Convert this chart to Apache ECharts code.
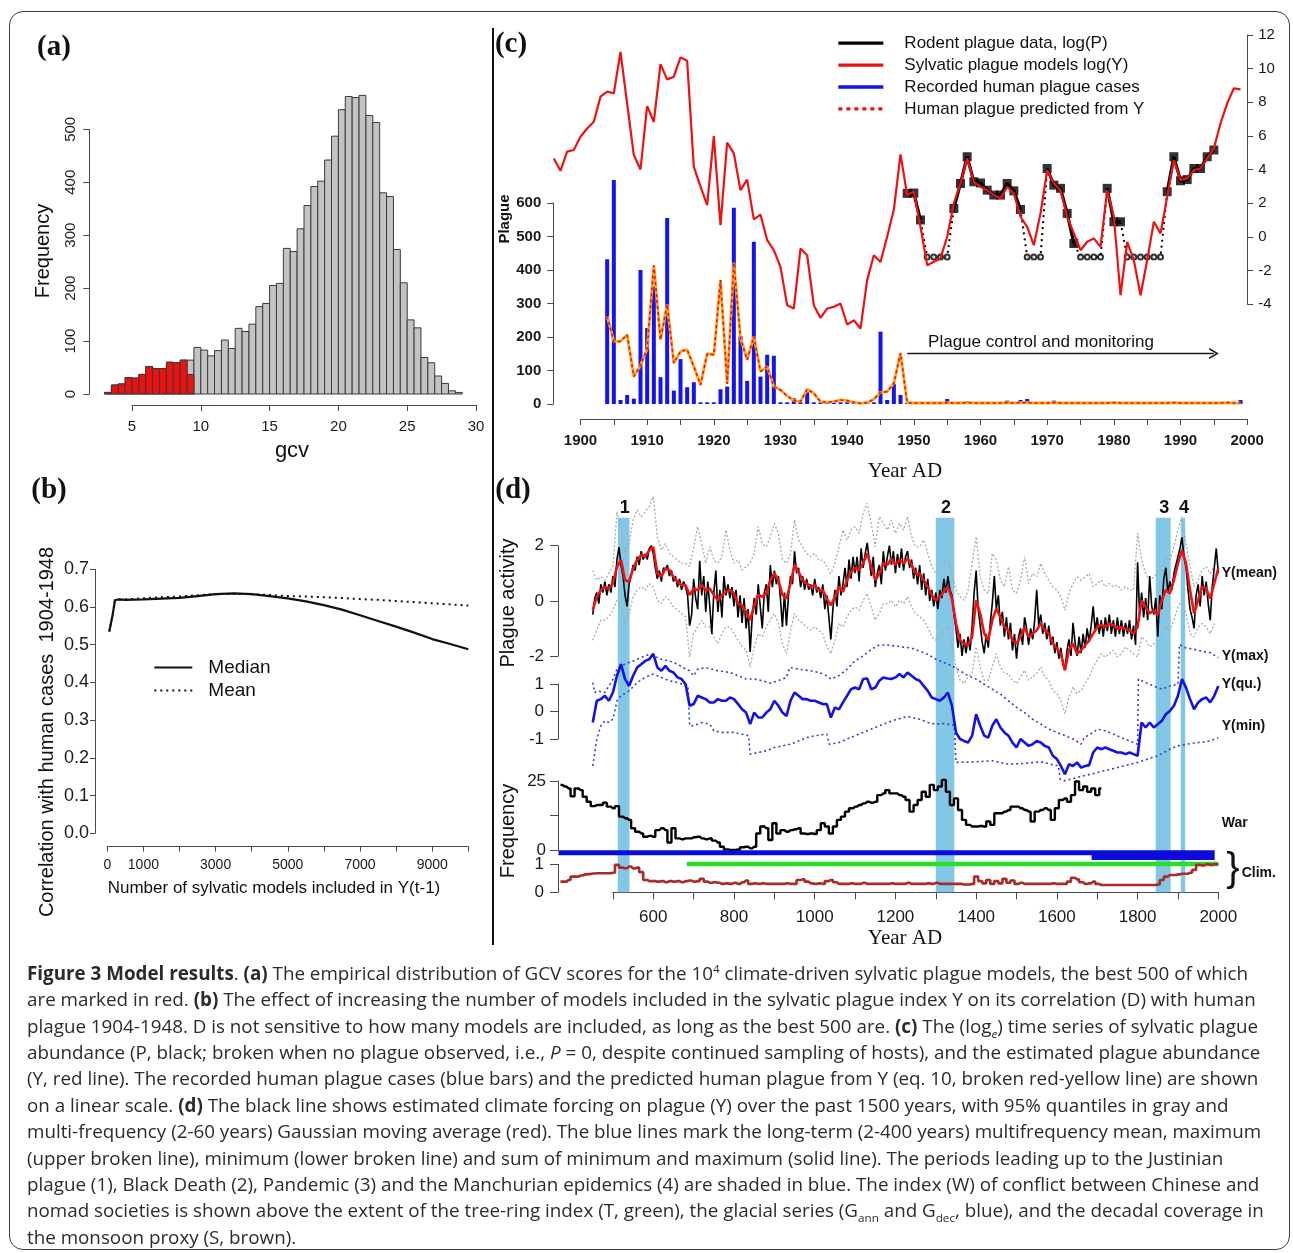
<!DOCTYPE html>
<html>
<head>
<meta charset="utf-8">
<title>Figure 3 Model results</title>
<script src="https://cdn.jsdelivr.net/npm/echarts@6.0.0/dist/echarts.min.js"></script>
<style>
  html, body { margin: 0; padding: 0; background: #fff; }
  #page { position: relative; width: 1293px; height: 1253px; overflow: hidden; background: #fff; }
  #chart { position: absolute; left: 0; top: 0; width: 1293px; height: 1253px; }
  #frame { position: absolute; left: 9px; top: 11px; width: 1281px; height: 1239px; box-sizing: border-box;
           border: 1.5px solid #3a3a3a; border-radius: 14px; pointer-events: none; }
  #caption { position: absolute; left: 27px; top: 960px; font-family: "Open Sans", "Noto Sans", sans-serif;
             font-size: 18px; color: #2b2b2b; white-space: nowrap; }
  #caption div { width: max-content; height: 26.37px; line-height: 26.37px; }
  #caption sup, #caption sub { font-size: 0.62em; line-height: 0; }
</style>
</head>
<body>
<div id="page">
  <div id="chart"></div>
  <div id="frame"></div>
  <div id="caption">
    <div><b>Figure 3 Model results</b>. <b>(a)</b> The empirical distribution of GCV scores for the 10<sup>4</sup> climate-driven sylvatic plague models, the best 500 of which</div>
    <div>are marked in red. <b>(b)</b> The effect of increasing the number of models included in the sylvatic plague index Y on its correlation (D) with human</div>
    <div>plague 1904-1948. D is not sensitive to how many models are included, as long as the best 500 are. <b>(c)</b> The (log<sub><i>e</i></sub>) time series of sylvatic plague</div>
    <div>abundance (P, black; broken when no plague observed, i.e., <i>P</i> = 0, despite continued sampling of hosts), and the estimated plague abundance</div>
    <div>(Y, red line). The recorded human plague cases (blue bars) and the predicted human plague from Y (eq. 10, broken red-yellow line) are shown</div>
    <div>on a linear scale. <b>(d)</b> The black line shows estimated climate forcing on plague (Y) over the past 1500 years, with 95% quantiles in gray and</div>
    <div>multi-frequency (2-60 years) Gaussian moving average (red). The blue lines mark the long-term (2-400 years) multifrequency mean, maximum</div>
    <div>(upper broken line), minimum (lower broken line) and sum of minimum and maximum (solid line). The periods leading up to the Justinian</div>
    <div>plague (1), Black Death (2), Pandemic (3) and the Manchurian epidemics (4) are shaded in blue. The index (W) of conflict between Chinese and</div>
    <div>nomad societies is shown above the extent of the tree-ring index (T, green), the glacial series (G<sub>ann</sub> and G<sub>dec</sub>, blue), and the decadal coverage in</div>
    <div>the monsoon proxy (S, brown).</div>
  </div>
</div>
<script>
// ---------- (a) GCV histogram ----------
const gcvFrom = 3;          // first bin edge
const gcvBin = 0.5;         // bin width
const gcvCounts = [3, 17, 19, 31, 30, 37, 52, 48, 48, 60, 59, 64, 64,
  88, 83, 72, 82, 102, 86, 124, 118, 132, 165, 171, 205, 209, 275, 269, 312, 356, 392, 402, 442,
  487, 537, 562, 560, 564, 526, 513, 380, 373, 273, 210, 140, 125, 69, 59, 34, 20, 6, 3];
const gcvBest500 = [3, 17, 19, 31, 30, 37, 52, 48, 48, 60, 59, 64, 37];

// ---------- (b) correlation vs number of models ----------
const corrModels = [55, 150, 212, 300, 500, 1000, 1500, 2000, 2500, 3000, 3500, 4000, 4500, 5000,
  5500, 6000, 6500, 7000, 7500, 8000, 8500, 9000, 9500, 10000];
const corrMedian = [0.535, 0.58, 0.618, 0.62, 0.619, 0.62, 0.622, 0.624, 0.629, 0.634, 0.636, 0.634,
  0.629, 0.623, 0.615, 0.605, 0.593, 0.578, 0.563, 0.548, 0.532, 0.515, 0.502, 0.488];
const corrMean = [0.535, 0.58, 0.618, 0.62, 0.62, 0.623, 0.626, 0.628, 0.631, 0.634, 0.635, 0.634,
  0.632, 0.629, 0.628, 0.626, 0.624, 0.621, 0.619, 0.616, 0.613, 0.61, 0.607, 0.604];
const corrTickLabels = [0, 1000, 3000, 5000, 7000, 9000];

// ---------- (c) 1896-1999 ----------
const logYFrom = 1896;
const logY = [4.66, 3.92, 5.06, 5.16, 5.95, 6.44, 6.84, 8.33, 8.63, 8.53,
  11.0, 7.93, 4.86, 4.0, 7.77, 6.84, 10.27, 9.36, 9.52, 10.67,
  10.47, 4.16, 3.0, 1.88, 5.99, 0.69, 5.6, 4.96, 2.77, 3.4,
  1.03, 1.32, -0.2, -0.8, -1.79, -4.07, -4.27, -0.7, -1.1, -4.07,
  -4.83, -4.27, -4.17, -3.97, -5.22, -4.97, -5.46, -2.58, -1.1, -1.5,
  0.0, 1.6, 4.9, 2.5, 2.68, 0.59, -1.69, -1.49, -1.29, 0.0,
  1.98, 3.17, 4.66, 3.27, 2.97, 2.77, 2.48, 2.28, 2.97, 2.58,
  1.19, 0.59, -0.5, 1.39, 3.96, 3.17, 2.77, 1.19, 0.2, -0.8,
  -0.3, -0.1, -0.6, 2.77, 1.19, -3.48, -0.3, -1.39, -3.48, -1.39,
  0.89, 0.2, 2.38, 4.56, 3.37, 3.47, 3.96, 4.06, 4.66, 5.26,
  6.74, 7.93, 8.83, 8.77];
const rodentFrom = 1949;
const rodentZeroLevel = -1.2;   // where years with P = 0 are drawn
const rodentLogP = [2.58, 2.6, 1.0, null, null, null, null, 1.68, 3.17, 4.76,
  3.27, 3.2, 2.77, 2.48, 2.48, 3.17, 2.73, 1.62, null, null,
  null, 4.06, 3.07, 2.88, 1.39, -0.4, null, null, null, null,
  2.88, 0.89, 0.89, null, null, null, null, null, null, 2.68,
  4.76, 3.33, 3.4, 4.06, 4.06, 4.76, 5.16];
const humanFrom = 1904;
const humanCases = [432, 669, 12, 27, 16, 400, 227, 352, 80, 555,
  40, 134, 50, 65, 5, 5, 5, 44, 52, 586,
  203, 69, 484, 82, 147, 144, 5, 5, 17, 5,
  35, 5, 5, 5, 5, 5, 5, 5, 5, 5,
  5, 216, 12, 60, 27,
  3, 3, 3, 4, 3, 3, 15, 4, 3, 8,
  4, 3, 3, 4, 5, 10, 4, 12, 15, 4,
  3, 3, 10, 3, 4, 3, 4, 5, 3, 3,
  4, 3, 3, 4, 3, 3, 4, 3, 3, 3,
  6, 3, 4, 3, 3, 4, 3, 3, 4, 3, 12];
const humanPredicted = [262, 187, 187, 207, 82, 115, 165, 414, 192, 297,
  122, 157, 162, 112, 57, 150, 147, 370, 60, 422,
  197, 132, 202, 97, 112, 52, 42, 24, 10, 7,
  44, 32, 7, 5, 7, 12, 10, 5, 2, 4,
  14, 35, 37, 62, 152, 4, 3, 3, 3, 3,
  3, 4, 3, 3, 4, 3, 3, 3, 3, 3,
  4, 3, 4, 4, 3, 3, 3, 4, 3, 3,
  3, 3, 3, 3, 3, 3, 4, 3, 3, 3,
  3, 3, 3, 3, 3, 4, 3, 3, 3, 3,
  3, 3, 3, 4, 3, 3];
const controlStart = 1949, controlEnd = 1995;

// ---------- (d) 450-2000 ----------
const plagueBlack = [ // every 5 years from 450
  -0.5, 0.1, 0.3, -0.1, 0.6, 0.3, 0.7, 0.2, 0.6, 0.3,
  0.9, 0.5, 1.5, 1.95, 1.3, 0.9, 0.2, -0.2, 0.6, 0.9,
  1.3, 1.1, 1.6, 1.3, 1.8, 1.5, 1.7, 1.5, 1.9, 2.0,
  1.7, 1.2, 0.8, 1.1, 0.7, 1.2, 1.1, 1.3, 0.9, 1.1,
  0.7, 0.9, 0.5, 0.8, 0.4, 0.7, 0.5, 0.2, -0.9, -0.5,
  0.8, 0.1, -0.3, 1.45, 0.2, 0.9, -0.4, 0.7, -0.2, -1.2,
  0.3, 1.1, -0.4, 0.4, -0.6, 0.9, 0.2, 0.6, 0.1, 0.5,
  -0.2, 0.4, -0.6, 0.2, -0.8, 0.1, -1.0, -0.3, -1.85, -0.6,
  0.1, -0.5, 0.6, -0.2, -1.0, 0.3, 0.6, -0.4, 1.3, 0.5,
  1.1, 0.6, 0.9, 0.1, -0.95, 0.3, -0.9, 0.2, 0.9, 0.6,
  1.8, 1.0, 1.2, 0.5, 0.9, 0.4, 0.8, 0.4, 0.6, 0.2,
  0.8, 0.3, 0.5, 0.1, 0.6, -0.3, 0.2, -0.6, -1.4, -0.3,
  0.4, -0.2, 0.9, 0.2, 0.6, 1.2, 0.5, 1.5, 0.8, 1.6,
  1.0, 1.6, 0.7, 1.9, 1.2, 1.7, 2.1, 1.5, 0.9, 1.6,
  0.5, 1.0, 1.3, 0.6, 1.8, 1.1, 1.6, 2.0, 1.3, 1.8,
  1.0, 1.7, 1.2, 1.9, 1.1, 1.6, 1.8, 1.2, 1.5, 0.8,
  1.2, 0.6, 1.3, 0.4, 1.0, 0.2, 0.8, 0.0, 0.4, -0.2,
  0.3, -0.3, 0.4, 0.1, 0.8, 0.3, 0.9, 0.4, 0.2, -0.5,
  -1.0, -1.7, -1.2, -2.0, -1.4, -1.9, -1.3, -1.8, -0.9, 0.3,
  1.1, -0.3, -0.9, -1.5, -1.9, -1.2, -1.7, -0.8, -0.1, 0.9,
  -0.3, 0.2, -0.9, -0.4, -1.3, -0.6, -1.4, -0.8, -1.8, -1.2,
  -2.1, -1.3, -1.0, -1.6, -0.6, -1.0, -1.6, -1.0, -1.4, -0.7,
  0.4, -0.9, -0.5, -1.2, -0.8, -1.4, -0.9, -1.6, -1.3, -1.9,
  -1.5, -2.1, -1.7, -2.3, -2.5, -1.8, -1.4, -2.0, -0.8, -1.5,
  -2.0, -1.3, -1.9, -1.2, -1.7, -1.0, -1.5, -0.9, -0.2, -1.1,
  -0.6, -1.2, -0.7, -1.3, -0.6, -1.1, -0.5, -1.2, -0.7, -1.3,
  -0.6, -1.2, -0.7, -1.3, -0.8, -1.2, -0.7, -1.4, -0.9, -1.6,
  1.4, -0.5, 0.3, -0.6, 0.1, -0.7, 0.9, -0.2, -0.5, 0.1,
  -1.3, 0.2, -0.3, 0.8, 1.2, 0.3, 0.7, 0.4, 1.0, 1.3,
  1.6, 1.9, 2.3, 1.6, 1.2, 0.4, -0.3, -0.6, -1.0, 0.2,
  0.6, -0.2, 0.9, 0.2, 0.7, -0.1, -0.7, 0.5, 1.2, 1.9,
  1.0];
const plagueRed = [ // every 10 years from 450
  -0.34, 0.15, 0.39, 0.5, 0.45, 0.63, 1.24, 1.48, 0.75, 0.69,
  1.18, 1.48, 1.66, 1.6, 1.84, 1.95, 0.99, 0.87, 1.18, 1.12,
  0.87, 0.69, 0.57, 0.57, 0.21, 0.45, 0.39, 0.57, 0.39, 0.45,
  0.21, 0.02, 0.21, 0.33, 0.39, 0.27, -0.1, -0.16, -0.4, -0.7,
  -0.16, 0.21, 0.15, 0.27, 0.75, 0.99, 0.75, 0.21, 0.08, 0.63,
  1.3, 1.05, 0.75, 0.63, 0.51, 0.57, 0.39, 0.39, 0.08, -0.16,
  0.15, 0.51, 0.33, 0.75, 1.05, 1.18, 1.12, 1.36, 1.72, 1.24,
  0.75, 0.99, 1.36, 1.3, 1.54, 1.3, 1.48, 1.36, 1.54, 1.3,
  0.99, 0.99, 0.75, 0.51, 0.21, 0.02, 0.15, 0.33, 0.51, 0.08,
  -0.82, -1.43, -1.55, -1.61, -1.31, 0.02, -0.46, -1.19, -1.43, -0.7,
  -0.28, -0.58, -0.95, -1.07, -1.43, -1.55, -1.31, -0.95, -1.31, -1.19,
  -1.07, -0.82, -1.07, -1.19, -1.55, -1.73, -1.92, -2.52, -1.79, -1.55,
  -1.92, -1.79, -1.61, -1.43, -1.19, -0.95, -0.88, -0.95, -0.82, -0.88,
  -1.01, -0.95, -1.01, -1.07, -1.19, -0.95, 0.02, -0.22, -0.46, -0.34,
  -0.52, 0.02, 0.39, 0.27, 0.75, 1.36, 1.84, 1.36, 0.39, -0.46,
  0.02, 0.51, 0.45, 0.08, 0.63, 1.18];
const plagueQ975 = [ // every 10 years from 450
  1.1, 0.75, 0.87, 0.75, 1.0, 1.24, 3.24, 2.57, 1.72, 2.08,
  2.93, 3.3, 3.05, 3.24, 3.42, 3.78, 2.33, 1.84, 2.08, 1.72,
  1.6, 1.48, 1.36, 1.36, 1.24, 1.96, 2.69, 2.08, 1.36, 1.96,
  1.48, 1.36, 1.6, 2.57, 1.84, 1.36, 1.48, 1.12, 1.24, 1.36,
  1.72, 2.69, 2.08, 1.96, 2.33, 2.81, 2.45, 1.48, 1.36, 1.72,
  2.93, 2.21, 1.96, 1.72, 1.6, 1.72, 1.48, 1.48, 1.24, 0.99,
  1.36, 1.96, 2.57, 2.21, 2.57, 2.69, 2.45, 3.18, 3.54, 2.81,
  1.96, 3.05, 2.81, 2.57, 2.93, 2.45, 2.81, 2.57, 3.05, 2.33,
  1.96, 1.96, 2.21, 1.72, 1.24, 0.99, 1.24, 1.36, 1.48, 0.99,
  0.39, 0.15, 0.02, 0.39, 1.36, 2.33, 0.87, 0.39, 0.27, 1.72,
  1.48, 0.75, 0.51, 1.24, 0.39, 0.27, 0.75, 1.6, 0.63, 0.99,
  0.87, 1.36, 0.99, 0.75, 0.51, 0.39, 0.15, -0.34, 0.27, 0.63,
  0.87, 0.75, 0.87, 0.99, 0.51, 0.63, 0.75, 0.51, 0.63, 0.51,
  0.57, 0.39, 0.51, 0.39, 0.39, 2.45, 1.48, 0.99, 0.75, 0.87,
  0.99, 1.12, 1.6, 1.48, 1.96, 2.57, 3.05, 2.08, 1.24, 0.51,
  0.75, 1.12, 1.24, 0.99, 1.24];
const plagueQ025 = [ // every 10 years from 450
  -1.43, -1.07, -0.7, -0.7, -0.58, -0.34, 0.02, -0.22, -0.82, -0.46,
  0.15, 0.39, 0.51, 0.39, 0.63, 0.51, 0.02, -0.1, 0.15, 0.02,
  -0.22, -0.34, -0.46, -0.58, -2.04, -1.19, -0.95, -0.7, -0.95, -0.95,
  -1.31, -1.55, -1.19, -0.95, -0.95, -1.19, -1.43, -1.67, -1.79, -2.4,
  -1.67, -1.19, -1.31, -0.95, -0.7, -0.46, -0.82, -1.55, -1.92, -1.07,
  -0.46, -0.7, -0.82, -0.95, -1.07, -0.95, -1.07, -1.19, -1.67, -1.92,
  -1.43, -0.82, -0.95, -0.58, -0.34, -0.22, -0.34, 0.02, 0.27, -0.22,
  -0.7, -0.46, -0.1, -0.1, 0.02, -0.22, 0.02, -0.1, 0.15, -0.22,
  -0.46, -0.58, -0.7, -0.95, -1.31, -1.43, -1.31, -1.07, -0.95, -1.55,
  -2.4, -2.88, -3.0, -2.76, -2.64, -1.67, -2.4, -2.88, -2.88, -2.4,
  -1.92, -2.4, -2.64, -2.64, -2.88, -3.0, -2.76, -2.52, -2.88, -2.76,
  -2.64, -2.4, -2.76, -2.88, -3.25, -3.37, -3.61, -4.1, -3.49, -3.12,
  -3.37, -3.25, -3.0, -2.76, -2.4, -2.16, -1.92, -2.04, -1.92, -1.79,
  -2.04, -1.92, -1.67, -1.79, -1.92, -2.04, -1.31, -1.43, -1.67, -1.55,
  -1.67, -1.19, -0.95, -1.07, -0.7, -0.22, 0.02, -0.46, -1.19, -1.31,
  -0.95, -0.82, -0.95, -1.19, -0.82];
const yQu = [ // every 10 years from 450
  -0.4, 0.39, 0.45, 0.57, 0.39, 0.69, 1.3, 1.72, 1.18, 0.93,
  1.3, 1.6, 1.72, 1.84, 1.9, 2.1, 1.6, 1.48, 1.66, 1.48,
  1.42, 1.24, 1.18, 0.99, 0.21, 0.27, 0.57, 0.51, 0.45, 0.33,
  0.33, 0.45, 0.39, 0.39, 0.51, 0.45, 0.27, 0.08, -0.04, -0.46,
  -0.04, -0.22, -0.22, -0.04, 0.08, 0.39, 0.21, -0.04, -0.16, 0.39,
  0.69, 0.57, 0.45, 0.45, 0.39, 0.39, 0.33, 0.27, 0.27, -0.22,
  0.15, 0.08, 0.33, 0.57, 0.81, 0.87, 0.81, 1.18, 1.2, 0.81,
  0.87, 1.12, 1.24, 1.2, 1.18, 1.24, 1.36, 1.24, 1.42, 1.3,
  1.18, 1.12, 0.93, 0.75, 0.51, 0.45, 0.39, 0.51, 0.69, 0.21,
  -0.76, -1.0, -1.07, -1.13, -0.88, -0.1, -0.52, -0.88, -0.95, -0.52,
  -0.28, -0.58, -0.76, -0.88, -1.13, -1.31, -1.0, -1.13, -1.25, -1.19,
  -1.07, -1.13, -1.25, -1.31, -1.61, -1.73, -1.98, -2.28, -1.92, -1.98,
  -1.85, -2.04, -1.98, -1.95, -1.49, -1.31, -1.37, -1.31, -1.37, -1.43,
  -1.49, -1.49, -1.55, -1.49, -1.55, -1.61, -0.4, -0.58, -0.4, -0.58,
  -0.46, -0.34, -0.1, 0.02, 0.21, 0.57, 1.18, 0.87, 0.45, 0.08,
  0.33, 0.45, 0.51, 0.33, 0.57, 0.93];
const yMaxPts = [[450, 1.05], [455, 0.69], [460, 0.75], [470, 0.72], [480, 0.69], [490, 0.93], [500, 1.18],
  [510, 1.54], [520, 1.66], [530, 1.72], [550, 1.84], [570, 1.96], [590, 2.08], [600, 2.02], [620, 1.9],
  [640, 1.84], [660, 1.72], [680, 1.54], [690, 1.48], [700, 1.3], [710, 1.54], [730, 1.6], [760, 1.48],
  [790, 1.42], [810, 1.3], [830, 1.18], [850, 1.18], [870, 1.12], [890, 1.03], [910, 1.12], [930, 1.24],
  [938, 1.6], [960, 1.54], [990, 1.48], [1010, 1.42], [1030, 1.3], [1040, 1.18], [1060, 1.3], [1080, 1.54],
  [1100, 1.84], [1120, 2.02], [1140, 2.26], [1160, 2.42], [1180, 2.42], [1200, 2.38], [1220, 2.34],
  [1240, 2.31], [1260, 2.19], [1280, 2.08], [1300, 1.9], [1320, 1.78], [1340, 1.66], [1360, 1.48],
  [1380, 1.3], [1400, 1.18], [1420, 0.99], [1440, 0.81], [1460, 0.63], [1480, 0.39], [1500, 0.15],
  [1520, -0.04], [1540, -0.28], [1560, -0.46], [1580, -0.64], [1600, -0.76], [1620, -0.88], [1640, -1.0],
  [1660, -1.19], [1668, -0.95], [1690, -0.76], [1700, -0.64], [1720, -0.7], [1740, -0.82], [1760, -0.95],
  [1780, -1.07], [1800, -1.19], [1802, 1.18], [1820, 1.05], [1840, 0.93], [1860, 0.81], [1880, 0.93],
  [1900, 0.99], [1904, 2.44], [1920, 2.31], [1940, 2.26], [1960, 2.19], [1980, 2.14], [2000, 1.96]];
const yMinPts = [[450, -1.98], [455, -1.49], [460, -1.0], [470, -0.52], [480, -0.34], [490, -0.4], [500, -0.28],
  [510, 0.39], [520, 0.57], [540, 0.75], [560, 1.05], [580, 1.24], [600, 1.36], [620, 1.24], [640, 1.12],
  [660, 1.05], [686, 0.93], [690, -0.52], [700, -0.52], [720, -0.4], [740, -0.46], [750, -0.7], [770, -0.76],
  [800, -0.76], [836, -0.88], [840, -1.55], [860, -1.49], [880, -1.43], [900, -1.31], [920, -1.25],
  [940, -1.19], [960, -1.07], [980, -0.95], [1000, -0.88], [1030, -0.82], [1036, -1.19], [1060, -1.13],
  [1080, -1.0], [1100, -0.88], [1120, -0.76], [1140, -0.64], [1160, -0.52], [1180, -0.4], [1200, -0.3],
  [1230, -0.18], [1260, -0.28], [1280, -0.4], [1300, -0.46], [1320, -0.44], [1346, -0.5], [1350, -1.85],
  [1400, -1.83], [1440, -1.79], [1480, -1.92], [1520, -1.89], [1560, -1.83], [1604, -1.98], [1608, -2.46],
  [1620, -2.52], [1650, -2.4], [1700, -2.22], [1750, -2.04], [1800, -1.85], [1850, -1.61], [1880, -1.37],
  [1900, -1.25], [1920, -1.19], [1950, -1.13], [1980, -1.07], [2000, -0.95]];
const warFreq = [ // every 10 years from 370
  23.6, 23, 22.3, 19.5, 22.3, 21.7, 19.3, 17.5, 15.9, 16.3,
  16.3, 17.1, 15.7, 15.1, 15.9, 12.1, 11.5, 10.9, 7.9, 6.6,
  6.0, 4.8, 5.1, 4.8, 7.2, 7.9, 7.2, 2.7, 7.9, 4.2,
  3.9, 4.2, 4.2, 4.6, 4.8, 4.2, 3.9, 4.2, 3.4, 2.7,
  1.2, 0.2, 0, 0, 0.2, 1.0, 1.2, 0.6, 1.2, 6.0,
  8.5, 7.9, 3.6, 9.7, 6.0, 7.2, 6.6, 7.2, 7.5, 7.9,
  6.0, 5.8, 6.0, 5.8, 7.2, 9.7, 8.5, 6.0, 8.5, 10.9,
  12.1, 13.9, 15.1, 15.7, 16.3, 16.9, 17.5, 17.1, 17.5, 19.9,
  20.5, 21.7, 20.5, 20.5, 19.9, 19.3, 18.1, 13.9, 16.3, 18.1,
  21.1, 19.3, 23.6, 21.7, 23, 25.4, 21.1, 16.3, 18.7, 14.5,
  10.9, 9.1, 8.5, 8.5, 8.7, 8.5, 10.3, 9.1, 13.3, 13.3,
  13.9, 14.5, 15.7, 15.7, 15.1, 14.5, 13.9, 10.3, 13.9, 14.5,
  15.1, 14.5, 10.9, 15.1, 18.1, 18.7, 17.5, 19.9, 24.8, 21.7,
  23, 21.1, 22.3, 19.9, 22.3];
const monsoonCover = [ // every 10 years from 370
  0.38, 0.38, 0.44, 0.56, 0.56, 0.6, 0.64, 0.65, 0.67, 0.68,
  0.68, 0.68, 0.68, 0.7, 0.98, 0.88, 0.86, 0.92, 0.85, 0.88,
  0.72, 0.44, 0.4, 0.4, 0.38, 0.4, 0.36, 0.4, 0.38, 0.4,
  0.36, 0.4, 0.42, 0.38, 0.4, 0.48, 0.38, 0.34, 0.36, 0.34,
  0.3, 0.32, 0.3, 0.34, 0.3, 0.36, 0.42, 0.3, 0.32, 0.3,
  0.32, 0.3, 0.3, 0.3, 0.3, 0.3, 0.32, 0.3, 0.3, 0.44,
  0.46, 0.38, 0.32, 0.3, 0.32, 0.3, 0.4, 0.44, 0.36, 0.3,
  0.3, 0.3, 0.32, 0.3, 0.3, 0.34, 0.3, 0.3, 0.3, 0.3,
  0.3, 0.3, 0.32, 0.3, 0.3, 0.3, 0.34, 0.3, 0.3, 0.3,
  0.3, 0.32, 0.3, 0.34, 0.3, 0.3, 0.3, 0.3, 0.3, 0.3,
  0.28, 0.28, 0.3, 0.56, 0.4, 0.32, 0.44, 0.3, 0.4, 0.32,
  0.48, 0.34, 0.42, 0.3, 0.34, 0.3, 0.3, 0.3, 0.3, 0.3,
  0.3, 0.3, 0.32, 0.3, 0.3, 0.3, 0.38, 0.52, 0.46, 0.36,
  0.3, 0.32, 0.38, 0.3, 0.26, 0.26, 0.26, 0.26, 0.26, 0.26,
  0.26, 0.26, 0.26, 0.26, 0.26, 0.26, 0.26, 0.26, 0.28, 0.44,
  0.56, 0.62, 0.62, 0.64, 0.66, 0.66, 0.7, 0.8, 0.98, 0.96,
  1.0, 0.98, 1.0, 1.0];
const glacialAnn = [365, 1991];
const glacialDec = [1686, 1991];
const treeRing = [683, 2000];
const plagueBands = [[512, 541], [1300, 1346], [1845, 1882], [1907, 1918]];
const bandLabels = ['1', '2', '3', '4'];

// ---------- helpers ----------
const SANS = '"Liberation Sans", Arial, sans-serif';
const SERIF = '"Liberation Serif", "Times New Roman", serif';
const AX = '#4a4a4a';
const seq = (start, step, vals) => vals.map((v, i) => [start + i * step, v]);
const climLevel = { gAnn: 1.41, gDec: 1.24, tree: 1.01 };   // stacking of the extent bars

function vAxis(gridIndex, o) {
  const base = {
    type: 'value', gridIndex,
    axisLine: { show: true, onZero: false, lineStyle: { color: AX, width: 1 } },
    axisTick: { show: true, length: 6, lineStyle: { color: AX, width: 1 } },
    splitLine: { show: false },
    axisLabel: { color: '#1a1a1a', fontSize: 15, fontFamily: SANS, margin: 10 }
  };
  const out = Object.assign({}, base, o);
  out.axisLabel = Object.assign({}, base.axisLabel, o.axisLabel || {});
  out.axisTick = Object.assign({}, base.axisTick, o.axisTick || {});
  return out;
}
const hidden = (gridIndex, min, max) => ({ type: 'value', gridIndex, min, max, show: false, splitLine: { show: false } });

function histRenderer(fill) {
  return function (params, api) {
    const a = api.coord([api.value(0), api.value(2)]);
    const b = api.coord([api.value(1), 0]);
    return { type: 'rect', shape: { x: a[0], y: a[1], width: b[0] - a[0], height: b[1] - a[1] },
      style: { fill: fill, stroke: '#3a3a3a', lineWidth: 1 } };
  };
}
function txt(x, y, s, size, extra) {
  extra = extra || {};
  return {
    type: 'text', x: x, y: y, rotation: extra.rot || 0, silent: true,
    style: { text: s, fontSize: size, fontFamily: extra.font || SANS, fontWeight: extra.weight || 'normal',
      fill: extra.color || '#111', align: extra.align || 'center', textAlign: extra.align || 'center',
      verticalAlign: 'middle', textVerticalAlign: 'middle' }
  };
}
const line = (name, xi, yi, data, ls, more) => Object.assign({
  type: 'line', name, xAxisIndex: xi, yAxisIndex: yi, data, symbol: 'none', clip: false,
  lineStyle: ls, itemStyle: { color: ls.color }, emphasis: { disabled: true }
}, more || {});

const arrowHead = 'path://M0,10 L5,0 L10,10 L8.6,10.6 L5,3.2 L1.4,10.6 Z';

// (d) data grids start at the year of the left axis line, the drawn year axis starts at 500
const dFrom = 364, dLeft = 558.05, dRight = 1218.3;
const dGrid = (top, height) => ({ left: dLeft, top, width: dRight - dLeft, height, outerBoundsMode: 'none' });

const option = {
  animation: false,
  textStyle: { fontFamily: SANS },
  grid: [
    { left: 132, top: 129.3, width: 344, height: 264.7, outerBoundsMode: 'none' },   // 0 a
    { left: 107.3, top: 569.3, width: 361, height: 264, outerBoundsMode: 'none' },   // 1 b
    { left: 580.5, top: 203, width: 666.7, height: 201, outerBoundsMode: 'none' },   // 2 c left
    { left: 553.8, top: 35, width: 693.4, height: 269, outerBoundsMode: 'none' },    // 3 c right (from 1896)
    dGrid(545.7, 110.3),   // 4 plague activity
    dGrid(684, 55),        // 5 long-term
    dGrid(781, 69),        // 6 war
    dGrid(864.3, 28),      // 7 clim
    dGrid(517.7, 374.6),   // 8 shaded periods
    { left: 612.9, top: 864.3, width: dRight - 612.9, height: 28, outerBoundsMode: 'none' } // 9 year axis
  ],
  xAxis: [
    vAxis(0, { min: 5, max: 30, interval: 5, offset: 11, axisLabel: { margin: 14 } }),
    vAxis(1, { min: 0, max: 10000, interval: 1000, offset: 13.4, axisTick: { length: 5 },
      axisLabel: { fontSize: 14, margin: 11, formatter: v => corrTickLabels.includes(v) ? String(v) : '' } }),
    vAxis(2, { min: 1900, max: 2000, interval: 5, offset: 15,
      axisLabel: { margin: 14, fontWeight: 'bold', formatter: v => v % 10 === 0 ? String(v) : '' } }),
    hidden(3, 1896, 2000),
    hidden(4, dFrom, 2000), hidden(5, dFrom, 2000), hidden(6, dFrom, 2000), hidden(7, dFrom, 2000),
    hidden(8, dFrom, 2000),
    vAxis(9, { min: 500, max: 2000, interval: 100, axisTick: { length: 7 },
      axisLabel: { fontSize: 17, margin: 17, formatter: v => (v % 200 === 0 && v >= 600) ? String(v) : '' } })
  ],
  yAxis: [
    vAxis(0, { min: 0, max: 500, interval: 100, offset: 42.7, axisLabel: { rotate: 90, margin: 11 } }),
    vAxis(1, { min: 0, max: 0.7, interval: 0.1, offset: 12.3, axisTick: { length: 5 },
      axisLabel: { fontSize: 18, margin: 6, formatter: v => v.toFixed(1) } }),
    vAxis(2, { min: 0, max: 600, interval: 100, offset: 27.2, axisLabel: { margin: 12, fontWeight: 'bold' } }),
    vAxis(3, { min: -4, max: 12, interval: 2, position: 'right', axisLabel: { margin: 11 } }),
    vAxis(4, { min: -2, max: 2, interval: 2, axisTick: { length: 8 }, axisLabel: { fontSize: 17, margin: 14 } }),
    vAxis(5, { min: -1, max: 1, interval: 1, axisTick: { length: 8 }, axisLabel: { fontSize: 17, margin: 14 } }),
    vAxis(6, { min: 0, max: 25, interval: 12.5, axisTick: { length: 8 },
      axisLabel: { fontSize: 17, margin: 12, formatter: v => v === 12.5 ? '' : String(v) } }),
    vAxis(7, { min: 0, max: 1, interval: 1, axisTick: { length: 8 }, axisLabel: { fontSize: 17, margin: 14 } }),
    hidden(8, 0, 1),
    hidden(9, 0, 1)
  ],
  legend: [
    { orient: 'vertical', left: 153.3, top: 658, padding: 0, itemWidth: 38, itemHeight: 14, itemGap: 4,
      selectedMode: false, itemStyle: { opacity: 0 }, data: ['Median', 'Mean'],
      textStyle: { fontSize: 19, fontFamily: SANS, color: '#111', padding: [0, 0, 0, 11] } },
    { orient: 'vertical', left: 836.7, top: 34.7, padding: 0, itemWidth: 45, itemHeight: 14, itemGap: 4.9,
      selectedMode: false, itemStyle: { opacity: 0 },
      data: [
        { name: 'Rodent plague data, log(P)', lineStyle: { width: 3.3 } },
        { name: 'Sylvatic plague models log(Y)', lineStyle: { width: 3.3 } },
        { name: 'Recorded human plague cases', icon: 'path://M0,0H45V3.3H0Z', itemStyle: { opacity: 1 } },
        { name: 'Human plague predicted from Y', lineStyle: { width: 3.3, type: [4, 4] } }
      ],
      textStyle: { fontSize: 17, fontFamily: SANS, color: '#111', padding: [0, 0, 0, 16] } }
  ],
  series: [
    // (a)
    { type: 'custom', name: 'gcv', xAxisIndex: 0, yAxisIndex: 0, clip: false, z: 2,
      encode: { x: [0, 1], y: 2 }, renderItem: histRenderer('#c3c3c3'),
      data: gcvCounts.map((c, i) => [gcvFrom + i * gcvBin, gcvFrom + (i + 1) * gcvBin, c]) },
    { type: 'custom', name: 'best500', xAxisIndex: 0, yAxisIndex: 0, clip: false, z: 3,
      encode: { x: [0, 1], y: 2 }, renderItem: histRenderer('#ee1111'),
      data: gcvBest500.map((c, i) => [gcvFrom + i * gcvBin, gcvFrom + (i + 1) * gcvBin, c]) },
    // (b)
    line('Median', 1, 1, corrModels.map((n, i) => [n, corrMedian[i]]), { color: '#111', width: 2.2 }),
    line('Mean', 1, 1, corrModels.map((n, i) => [n, corrMean[i]]), { color: '#111', width: 2, type: [2, 4] }),
    // (c) left axis
    { type: 'bar', name: 'Recorded human plague cases', xAxisIndex: 2, yAxisIndex: 2, barWidth: 4, clip: false, z: 3,
      itemStyle: { color: '#1414f0' }, data: seq(humanFrom, 1, humanCases) },
    line('predictedBase', 2, 2, seq(humanFrom, 1, humanPredicted), { color: '#ffa31a', width: 2.8 }, {
      z: 4,
      markLine: {
        silent: true, animation: false, symbol: ['none', 'none'], label: { show: false },
        lineStyle: { color: '#1a1a1a', width: 1.3, type: 'solid' },
        data: [
          [{ coord: [controlStart, 0] }, { coord: [controlStart, 823] }],
          [{ coord: [controlStart, 151] }, { coord: [controlEnd, 151], symbol: arrowHead, symbolSize: [11, 10] }]
        ]
      }
    }),
    line('Human plague predicted from Y', 2, 2, seq(humanFrom, 1, humanPredicted),
      { color: '#ee1111', width: 1.6, type: [3, 3] }, { z: 5 }),
    // (c) right axis
    line('rodentDotted', 3, 3, rodentLogP.map((v, i) => [rodentFrom + i, v === null ? rodentZeroLevel : v]),
      { color: '#000', width: 2, type: [2, 4] }, { z: 4 }),
    line('Rodent plague data, log(P)', 3, 3, rodentLogP.map((v, i) => [rodentFrom + i, v]),
      { color: '#000', width: 3.2 }, { z: 5, connectNulls: false }),
    { type: 'scatter', name: 'rodentSquares', xAxisIndex: 3, yAxisIndex: 3, symbol: 'rect', symbolSize: 9, z: 6,
      itemStyle: { color: '#000' }, data: rodentLogP.map((v, i) => [rodentFrom + i, v]).filter(d => d[1] !== null) },
    { type: 'scatter', name: 'rodentZeros', xAxisIndex: 3, yAxisIndex: 3, symbol: 'emptyCircle', symbolSize: 5, z: 6,
      itemStyle: { color: '#000', borderColor: '#000', borderWidth: 1.2 },
      data: rodentLogP.map((v, i) => [rodentFrom + i, v]).filter(d => d[1] === null).map(d => [d[0], rodentZeroLevel]) },
    line('Sylvatic plague models log(Y)', 3, 3, seq(logYFrom, 1, logY), { color: '#ee1111', width: 2.2 }, { z: 7 }),
    // (d) shaded periods
    { type: 'custom', name: 'bands', xAxisIndex: 8, yAxisIndex: 8, clip: false, z: 1, encode: { x: [0, 1] },
      data: plagueBands,
      renderItem: function (params, api) {
        const a = api.coord([api.value(0), 1]);
        const b = api.coord([api.value(1), 0]);
        return { type: 'group', children: [
          { type: 'rect', shape: { x: a[0], y: a[1], width: b[0] - a[0], height: b[1] - a[1] }, style: { fill: '#82c7e6' } },
          { type: 'text', x: (a[0] + b[0]) / 2 + 1, y: a[1] - 1,
            style: { text: bandLabels[params.dataIndex], fontSize: 18, fontWeight: 'bold', fontFamily: SANS,
              fill: '#111', align: 'center', verticalAlign: 'bottom' } }
        ] };
      } },
    // (d) plague activity
    line('q975', 4, 4, seq(450, 10, plagueQ975), { color: '#a9a9a9', width: 1.3, type: [2, 2] }, { z: 2 }),
    line('q025', 4, 4, seq(450, 10, plagueQ025), { color: '#a9a9a9', width: 1.3, type: [2, 2] }, { z: 2 }),
    line('Y', 4, 4, seq(450, 5, plagueBlack), { color: '#000', width: 1.6 }, { z: 3 }),
    line('Y smooth', 4, 4, seq(450, 10, plagueRed), { color: '#ee1111', width: 2.6 }, { z: 4 }),
    // (d) long-term
    line('Y(max)', 5, 5, yMaxPts, { color: '#3b3bcf', width: 1.6, type: [2, 3] }, { z: 3 }),
    line('Y(min)', 5, 5, yMinPts, { color: '#3b3bcf', width: 1.6, type: [2, 3] }, { z: 3 }),
    line('Y(qu.)', 5, 5, seq(450, 10, yQu), { color: '#1212e6', width: 2.6 }, { z: 4 }),
    // (d) war
    line('War', 6, 6, seq(370, 10, warFreq), { color: '#000', width: 2.4 }, { z: 3, step: 'middle' }),
    // (d) climate proxies
    line('G ann', 7, 7, glacialAnn.map(y => [y, climLevel.gAnn]), { color: '#0c0cd8', width: 5 }, { z: 3 }),
    line('G dec', 7, 7, glacialDec.map(y => [y, climLevel.gDec]), { color: '#0c0cd8', width: 5 }, { z: 3 }),
    line('T', 7, 7, treeRing.map(y => [y, climLevel.tree]), { color: '#26e026', width: 4.5 }, { z: 3 }),
    line('S', 7, 7, seq(370, 10, monsoonCover), { color: '#a82a2a', width: 2.6 }, { z: 4, step: 'middle' })
  ],
  graphic: [
    { type: 'line', silent: true, shape: { x1: 493, y1: 28, x2: 493, y2: 945 }, style: { stroke: '#111', lineWidth: 2 } },
    txt(54, 48, '(a)', 29, { font: SERIF, weight: 'bold' }),
    txt(49, 491, '(b)', 29, { font: SERIF, weight: 'bold' }),
    txt(511, 45, '(c)', 29, { font: SERIF, weight: 'bold' }),
    txt(513, 491, '(d)', 29, { font: SERIF, weight: 'bold' }),
    txt(43, 251, 'Frequency', 20, { rot: Math.PI / 2 }),
    txt(292, 451, 'gcv', 22),
    txt(47, 732, 'Correlation with human cases  1904-1948', 20, { rot: Math.PI / 2 }),
    txt(274, 888, 'Number of sylvatic models included in Y(t-1)', 17),
    txt(505, 219, 'Plague', 15, { rot: Math.PI / 2, weight: 'bold' }),
    txt(905, 471, 'Year AD', 21, { font: SERIF }),
    txt(1041, 342, 'Plague control and monitoring', 17),
    txt(508, 603, 'Plague activity', 20, { rot: Math.PI / 2 }),
    txt(508, 831, 'Frequency', 20, { rot: Math.PI / 2 }),
    txt(905, 938, 'Year AD', 21, { font: SERIF }),
    txt(1221.7, 573, 'Y(mean)', 14, { align: 'left', weight: 'bold' }),
    txt(1221.7, 656, 'Y(max)', 14, { align: 'left', weight: 'bold' }),
    txt(1221.7, 684, 'Y(qu.)', 14, { align: 'left', weight: 'bold' }),
    txt(1221.7, 726, 'Y(min)', 14, { align: 'left', weight: 'bold' }),
    txt(1221.7, 823, 'War', 14, { align: 'left', weight: 'bold' }),
    txt(1241.7, 873, 'Clim.', 14, { align: 'left', weight: 'bold' }),
    txt(1233, 870, '}', 40)
  ]
};

const chart = echarts.init(document.getElementById('chart'), null, { renderer: 'canvas' });
chart.setOption(option);

// fit the caption so a plain (non-bold) line spans the same width as in the figure
const cap = document.getElementById('caption');
const refLine = cap.querySelectorAll('div')[4];
const natural = refLine.getBoundingClientRect().width;
if (natural > 0) cap.style.fontSize = (18 * 1232 / natural).toFixed(2) + 'px';
</script>
</body>
</html>
